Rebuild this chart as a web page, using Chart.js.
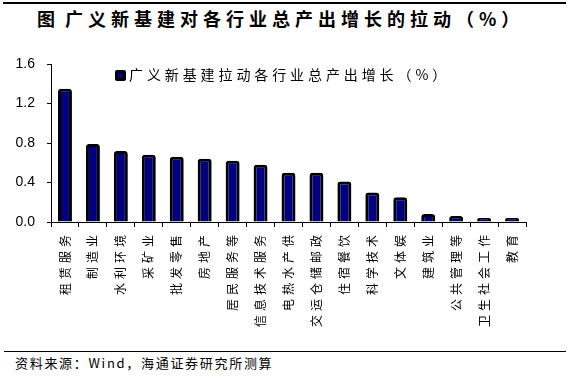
<!DOCTYPE html>
<html>
<head>
<meta charset="utf-8">
<script src="https://cdn.jsdelivr.net/npm/chart.js@4"></script>
<style>
  body { margin: 0; width: 569px; height: 385px; background: #fff; position: relative; overflow: hidden; font-family: "Noto Sans CJK SC", sans-serif; }
  .topline { position: absolute; left: 3px; top: 2px; width: 563px; height: 2px; background: #000; }
  .title { position: absolute; left: 37px; top: 7px; font-size: 18px; font-weight: bold; letter-spacing: 5px; white-space: nowrap; line-height: 22px; }
  .title span { margin-right: 5px; }
  .botline { position: absolute; left: 4px; top: 351px; width: 562px; height: 1px; background: #000; }
  .source { position: absolute; left: 15px; top: 354px; font-size: 13px; letter-spacing: 1.7px; white-space: nowrap; line-height: 18px; }
  .legend { position: absolute; left: 115px; top: 65px; font-size: 14px; letter-spacing: 3.9px; white-space: nowrap; line-height: 18px; }
  .legend i { display: inline-block; width: 5px; height: 5px; background: #000080; border: 3px solid #000; border-radius: 2px; margin-right: 3px; vertical-align: -1px; }
  #wrap { position: absolute; left: 0; top: 40px; width: 569px; height: 305px; }
</style>
</head>
<body>
<div class="topline"></div>
<div class="title"><span>图</span>广义新基建对各行业总产出增长的拉动（%）</div>
<div id="wrap"><canvas id="grafico"></canvas></div>
<div class="legend"><i></i>广义新基建拉动各行业总产出增长（%）</div>
<div class="botline"></div>
<div class="source">资料来源：Wind，海通证券研究所测算</div>
<script>
var sectores = ['租赁服务', '制造业', '水利环境', '采矿业', '批发零售', '房地产', '居民服务等',
    '信息技术服务', '电热水产供', '交运仓储邮政', '住宿餐饮', '科学技术', '文体娱', '建筑业',
    '公共管理等', '卫生社会工作', '教育'];
var arrastre = [1.35, 0.79, 0.72, 0.68, 0.66, 0.64, 0.62, 0.58, 0.50, 0.50, 0.41, 0.30, 0.25, 0.08, 0.06, 0.04, 0.04];
var ticksY = [0, 0.4, 0.8, 1.2, 1.6];

// espaciado de letras en las etiquetas del eje x
var espaciado = {
    id: 'espaciado',
    beforeDraw: function (chart) {
        var s = chart.scales.x;
        if (!s._parcheado) {
            var orig = s.drawLabels;
            s.drawLabels = function (area) {
                var c = this.ctx;
                c.save();
                c.letterSpacing = '4px';
                orig.call(this, area);
                c.restore();
            };
            s._parcheado = true;
        }
    }
};

var ctx = document.getElementById('grafico').getContext('2d');
var chart = new Chart(ctx, {
    type: 'bar',
    data: {
        labels: sectores,
        datasets: [{
                label: '广义新基建拉动各行业总产出增长（%）',
                data: arrastre,
                backgroundColor: '#000080',
                borderColor: '#000000',
                borderWidth: 3,
                borderRadius: 3,
                borderSkipped: 'bottom',
                barPercentage: 0.5,
                categoryPercentage: 1
            }]
    },
    options: {
        responsive: true,
        maintainAspectRatio: false,
        animation: false,
        layout: { padding: { top: 24, right: 43, left: 0, bottom: 0 } },
        plugins: { legend: { display: false }, tooltip: { enabled: false } },
        scales: {
            x: {
                grid: { display: true, drawOnChartArea: false, offset: true, tickLength: 5, color: '#000' },
                border: { color: '#000', width: 1 },
                ticks: {
                    color: '#000', maxRotation: 90, minRotation: 90, autoSkip: false, padding: 4,
                    font: { family: 'Noto Sans CJK SC', size: 12 }
                },
                afterFit: function (s) { s.height = 123; }
            },
            y: {
                min: 0, max: 1.6,
                afterBuildTicks: function (s) { s.ticks = ticksY.map(function (v) { return { value: v }; }); },
                grid: { display: true, drawOnChartArea: false, tickLength: 4, color: '#000' },
                border: { color: '#000', width: 1 },
                ticks: {
                    color: '#000', padding: 12,
                    font: { family: 'Liberation Sans', size: 14 },
                    callback: function (v) { return Number(v).toFixed(1); }
                },
                afterFit: function (s) { s.width = 51; }
            }
        }
    },
    plugins: [espaciado]
});
</script>
</body>
</html>
